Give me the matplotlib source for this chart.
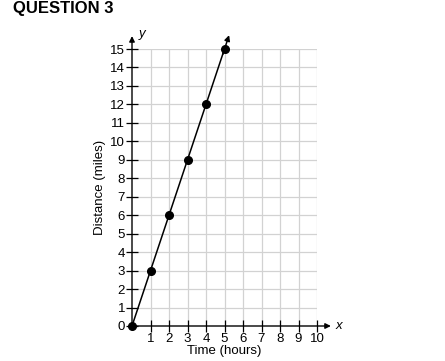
import matplotlib.pyplot as plt
import numpy as np

plt.rcParams['font.family'] = ['Liberation Sans', 'DejaVu Sans']

# data
time_hours = [0, 1, 2, 3, 4, 5]
distance_miles = [0, 3, 6, 9, 12, 15]
x_ticks = list(range(1, 11))
y_ticks = list(range(0, 16))

fig = plt.figure(figsize=(4.45, 3.61), dpi=100)
ax = fig.add_axes([132 / 445, 35 / 361, 185 / 445, 277 / 361])
ax.set_xlim(0, 10)
ax.set_ylim(0, 15)

# grid
for v in range(1, 11):
    ax.axvline(v, color='#d2d2d2', lw=0.9, zorder=0)
for v in range(1, 16):
    ax.axhline(v, color='#d2d2d2', lw=0.9, zorder=0)

for s in ax.spines.values():
    s.set_visible(False)

# axes with arrows
ax.annotate('', xy=(10.75, 0), xytext=(0, 0), xycoords='data',
            arrowprops=dict(arrowstyle='-|>', color='black', lw=1.0,
                            mutation_scale=8, shrinkA=0, shrinkB=0),
            annotation_clip=False)
ax.annotate('', xy=(0, 15.7), xytext=(0, 0), xycoords='data',
            arrowprops=dict(arrowstyle='-|>', color='black', lw=1.0,
                            mutation_scale=8, shrinkA=0, shrinkB=0),
            annotation_clip=False)
ax.text(11.0, 0, 'x', style='italic', fontsize=9.5, va='center', ha='left')
ax.text(0.35, 15.8, 'y', style='italic', fontsize=9.5, va='center', ha='left')

ax.set_xticks(x_ticks)
ax.set_yticks(y_ticks)
ax.tick_params(axis='both', direction='inout', length=8, width=0.9,
               labelsize=9.5, color='black', pad=1)

# line through the points, extended with arrow
ax.plot(time_hours, distance_miles, color='black', lw=1.1, clip_on=False)
ax.annotate('', xy=(5.25, 15.75), xytext=(4.9, 14.7),
            arrowprops=dict(arrowstyle='-|>', color='black', lw=1.1,
                            mutation_scale=8, shrinkA=0, shrinkB=0),
            annotation_clip=False)
ax.plot(time_hours, distance_miles, 'o', color='black', markersize=5.5,
        clip_on=False, zorder=5)

ax.set_xlabel('Time (hours)', fontsize=9.5, labelpad=0)
ax.set_ylabel('Distance (miles)', fontsize=9.5, labelpad=3)

fig.text(13 / 445, 1 - 8 / 361, 'QUESTION 3', fontsize=12, fontweight='bold',
         ha='left', va='center')

fig.savefig('out.png', dpi=100)
